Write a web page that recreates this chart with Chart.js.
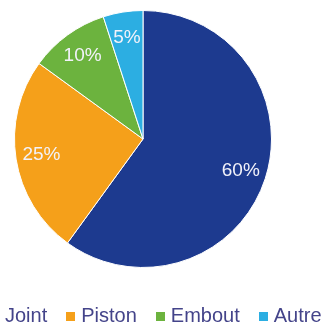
<!DOCTYPE html>
<html>
<head>
  <title>Répartition</title>
  <script src="https://cdn.jsdelivr.net/npm/chart.js"></script>
  <style>
    body{
      margin:0px;
      padding:0px;
      background:#ffffff;
      overflow:hidden;
      font-family:"Liberation Sans", Arial, sans-serif;
    }
    #wrap{
      position:relative;
      width:324px;
      height:327px;
    }
    #legend{
      position:absolute;
      left:-10px;
      top:304px;
      display:flex;
      white-space:nowrap;
      font-size:20px;
      color:#44448a;
    }
    #legend .item{
      display:flex;
      align-items:center;
      margin-right:19px;
    }
    #legend .box{
      width:9px;
      height:9px;
      margin-right:6px;
      margin-top:2px;
    }
  </style>
</head>
<body>
<div id="wrap">
  <canvas id="chart" width="324" height="327"></canvas>
  <div id="legend"></div>
</div>
<script>
  var labels = ['Joint', 'Piston', 'Embout', 'Autre'];
  var values = [60, 25, 10, 5];
  var colors = ['#1d3a8f', '#f5a01a', '#6cb33e', '#2caee2'];

  // percent labels inside the slices
  var sliceLabels = {
    id: 'sliceLabels',
    afterDatasetsDraw: function(chart){
      var ctx = chart.ctx;
      var meta = chart.getDatasetMeta(0);
      ctx.save();
      ctx.font = '19px "Liberation Sans", Arial, sans-serif';
      ctx.fillStyle = '#f2f2fa';
      ctx.textAlign = 'center';
      ctx.textBaseline = 'middle';
      meta.data.forEach(function(arc, i){
        var a = (arc.startAngle + arc.endAngle) / 2;
        var r = arc.outerRadius * 0.8;
        ctx.fillText(values[i] + '%', arc.x + Math.cos(a) * r, arc.y + Math.sin(a) * r);
      });
      ctx.restore();
    }
  };

  var ctx = document.getElementById('chart').getContext('2d');
  var chart = new Chart(ctx, {
    type: 'pie',
    data: {
      labels: labels,
      datasets: [{
        data: values,
        backgroundColor: colors,
        borderColor: '#ffffff',
        borderWidth: 1,
        hoverOffset: 0
      }]
    },
    options: {
      responsive: false,
      animation: false,
      layout: {
        padding: {top: 10, bottom: 59, left: 0, right: 38}
      },
      plugins: {
        legend: {display: false},
        tooltip: {enabled: false}
      }
    },
    plugins: [sliceLabels]
  });

  var legend = document.getElementById('legend');
  labels.forEach(function(name, i){
    var item = document.createElement('div');
    item.className = 'item';
    item.innerHTML = '<span class="box" style="background:' + colors[i] + '"></span>' + name;
    legend.appendChild(item);
  });
</script>
</body>
</html>
